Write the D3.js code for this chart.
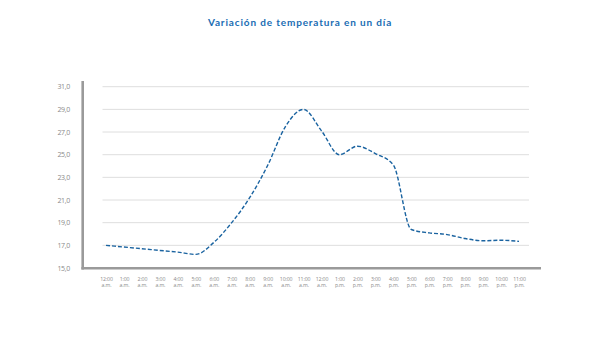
<!DOCTYPE html>
<html>
<head>
<meta charset="utf-8">
<script src="https://cdn.jsdelivr.net/npm/d3@7"></script>
<style>
  html, body { margin: 0; padding: 0; background: #fff; }
  svg { display: block; }
</style>
</head>
<body>
<svg id="chart" width="600" height="337"></svg>
<script>
// Hourly temperature over one day
const hours = ["12:00", "1:00", "2:00", "3:00", "4:00", "5:00", "6:00", "7:00", "8:00", "9:00", "10:00", "11:00",
               "12:00", "1:00", "2:00", "3:00", "4:00", "5:00", "6:00", "7:00", "8:00", "9:00", "10:00", "11:00"];
const periods = ["a.m.", "a.m.", "a.m.", "a.m.", "a.m.", "a.m.", "a.m.", "a.m.", "a.m.", "a.m.", "a.m.", "a.m.",
                 "a.m.", "p.m.", "p.m.", "p.m.", "p.m.", "p.m.", "p.m.", "p.m.", "p.m.", "p.m.", "p.m.", "p.m."];
const temperatures = [17.0, 16.85, 16.7, 16.55, 16.4, 16.2, 17.25, 19.0, 21.2, 24.05, 27.5, 29.0,
                      27.1, 25.0, 25.75, 25.1, 24.1, 18.4, 18.1, 17.95, 17.6, 17.4, 17.45, 17.35];
const yTicks = [15, 17, 19, 21, 23, 25, 27, 29, 31];
const title = "Variación de temperatura en un día";

const svg = d3.select("#chart");
const idx = d3.range(hours.length);

const x = d3.scalePoint().domain(idx).range([106, 519]);
const y = d3.scaleLinear().domain([15, 31]).range([268, 86.7]);
const fmt = v => d3.format(".1f")(v).replace(".", ",");

// Title
svg.append("text")
  .attr("x", 300).attr("y", 25.5)
  .attr("text-anchor", "middle")
  .attr("font-family", "Lato, 'Open Sans', sans-serif")
  .attr("font-weight", "bold")
  .attr("font-size", 10)
  .attr("letter-spacing", 0.85)
  .attr("fill", "#1a6db3")
  .text(title);

// Horizontal gridlines
svg.append("g")
  .selectAll("line")
  .data(yTicks.filter(t => t > 15))
  .join("line")
  .attr("x1", 102.5).attr("x2", 529)
  .attr("y1", d => y(d)).attr("y2", d => y(d))
  .attr("stroke", "#dedede")
  .attr("stroke-width", 1);

// Y axis labels
const yAxis = d3.axisLeft(y).tickValues(yTicks).tickFormat(fmt).tickSize(0).tickPadding(0);
const gy = svg.append("g").attr("transform", "translate(70,0)").call(yAxis);
gy.select(".domain").remove();
gy.selectAll("text")
  .attr("font-family", "'Open Sans', Lato, sans-serif")
  .attr("font-size", 7)
  .attr("letter-spacing", -0.3)
  .attr("fill", "#8a8a8a");

// Axis lines
svg.append("line")
  .attr("x1", 82.7).attr("x2", 82.7).attr("y1", 81).attr("y2", 269.5)
  .attr("stroke", "#9a9a9a").attr("stroke-width", 2.6);
svg.append("line")
  .attr("x1", 81.4).attr("x2", 541).attr("y1", 268.3).attr("y2", 268.3)
  .attr("stroke", "#9a9a9a").attr("stroke-width", 2.6);

// X axis labels: hour on the first row, period on the second
const xAxis = d3.axisBottom(x).tickSize(0).tickPadding(0).tickFormat(() => "");
const gx = svg.append("g").attr("transform", "translate(0,272)").call(xAxis);
gx.select(".domain").remove();
gx.selectAll(".tick text").remove();
const labelStyle = sel => sel
  .attr("text-anchor", "middle")
  .attr("font-family", "'Open Sans', Lato, sans-serif")
  .attr("font-size", 5.2)
  .attr("letter-spacing", -0.15)
  .attr("fill", "#8a8a8a");
gx.selectAll(".tick").each(function(d) {
  const tick = d3.select(this);
  tick.append("text").call(labelStyle).attr("y", 8.6).text(hours[d]);
  tick.append("text").call(labelStyle).attr("y", 15.2).text(periods[d]);
});

// Temperature line
const line = d3.line()
  .x((d, i) => x(i))
  .y(d => y(d))
  .curve(d3.curveMonotoneX);

svg.append("path")
  .datum(temperatures)
  .attr("d", line)
  .attr("fill", "none")
  .attr("stroke", "#1a63a0")
  .attr("stroke-width", 1.4)
  .attr("stroke-dasharray", "4,2");
</script>
</body>
</html>
